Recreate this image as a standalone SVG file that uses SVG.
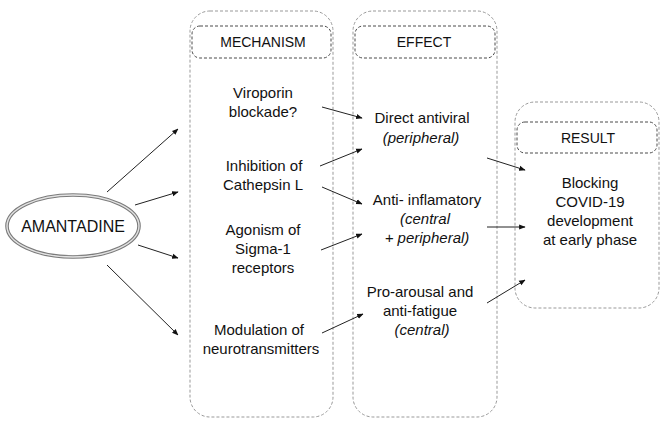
<svg xmlns="http://www.w3.org/2000/svg" width="664" height="423" viewBox="0 0 664 423">
<style>
.col{fill:none;stroke:#999;stroke-width:1;stroke-dasharray:3 2}
.hdr{fill:none;stroke:#4a4a4a;stroke-width:1;stroke-dasharray:3 2}
.t{font-family:"Liberation Sans",Arial,sans-serif;font-size:15px;fill:#111;text-anchor:middle}
.h{font-family:"Liberation Sans",Arial,sans-serif;font-size:14px;fill:#111;text-anchor:middle}
.i{font-style:italic}
.ar{stroke:#222;stroke-width:1;fill:none;marker-end:url(#ah)}
</style>
<defs>
<marker id="ah" viewBox="0 0 10 10" refX="9" refY="5" markerWidth="6.5" markerHeight="6.5" markerUnits="userSpaceOnUse" orient="auto">
<path d="M0,1 L10,5 L0,9 z" fill="#111"/>
</marker>
</defs>
<rect width="664" height="423" fill="#fff"/>
<g id="amantadine">
<ellipse cx="73" cy="226" rx="66" ry="31" fill="#fff" stroke="#7a7a7a" stroke-width="3.6"/>
<ellipse cx="73" cy="226" rx="66" ry="31" fill="none" stroke="#e2e2e2" stroke-width="1.4"/>
<text class="t" x="73" y="232" style="font-size:16px">AMANTADINE</text>
</g>
<g id="mechanism">
<rect class="col" x="190" y="11" width="143" height="406" rx="20"/>
<rect class="hdr" x="192" y="26" width="139" height="32" rx="8"/>
<text class="h" x="263" y="47">MECHANISM</text>
<text class="t" x="263" y="98">Viroporin</text>
<text class="t" x="263" y="117">blockade?</text>
<text class="t" x="264" y="171">Inhibition of</text>
<text class="t" x="263" y="190">Cathepsin L</text>
<text class="t" x="263" y="235">Agonism of</text>
<text class="t" x="263" y="254">Sigma-1</text>
<text class="t" x="263" y="273">receptors</text>
<text class="t" x="259" y="335">Modulation of</text>
<text class="t" x="261" y="354">neurotransmitters</text>
</g>
<g id="effect">
<rect class="col" x="353" y="11" width="144" height="406" rx="20"/>
<rect class="hdr" x="355" y="26" width="140" height="32" rx="8"/>
<text class="h" x="424" y="47">EFFECT</text>
<text class="t" x="422" y="123">Direct antiviral</text>
<text class="t i" x="421" y="143">(peripheral)</text>
<text class="t" x="427" y="205">Anti- inflamatory</text>
<text class="t i" x="425" y="224">(central</text>
<text class="t i" x="427" y="243">+ peripheral)</text>
<text class="t" x="420" y="297">Pro-arousal and</text>
<text class="t" x="420" y="316">anti-fatigue</text>
<text class="t i" x="422" y="335">(central)</text>
</g>
<g id="result">
<rect class="col" x="515" y="102" width="144" height="206" rx="20"/>
<rect class="hdr" x="517" y="122" width="140" height="31" rx="8"/>
<text class="h" x="588" y="143">RESULT</text>
<text class="t" x="590" y="188">Blocking</text>
<text class="t" x="590" y="207">COVID-19</text>
<text class="t" x="590" y="226">development</text>
<text class="t" x="590" y="245">at early phase</text>
</g>
<g id="connectors">
<line class="ar" x1="107" y1="192" x2="178" y2="129"/>
<line class="ar" x1="135" y1="205" x2="178" y2="192"/>
<line class="ar" x1="138" y1="245" x2="178" y2="258"/>
<line class="ar" x1="107" y1="265" x2="178" y2="335"/>
<line class="ar" x1="322" y1="107" x2="362" y2="118"/>
<line class="ar" x1="320" y1="166" x2="362" y2="149"/>
<line class="ar" x1="322" y1="187" x2="362" y2="204"/>
<line class="ar" x1="321" y1="250" x2="362" y2="234"/>
<line class="ar" x1="322" y1="333" x2="363" y2="314"/>
<line class="ar" x1="487" y1="158" x2="525" y2="170"/>
<line class="ar" x1="487" y1="227" x2="525" y2="227"/>
<line class="ar" x1="487" y1="303" x2="525" y2="280"/>
</g>
</svg>
